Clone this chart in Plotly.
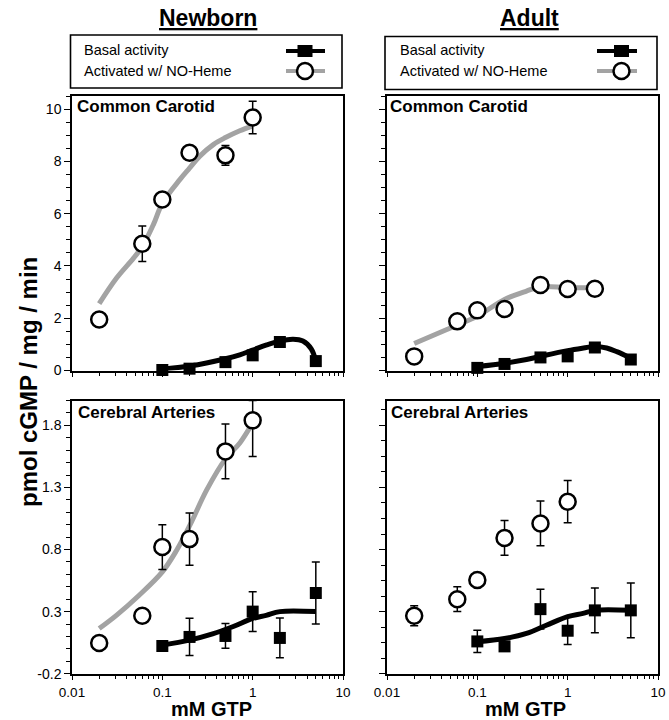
import plotly.graph_objects as go

# ---------------- data ----------------
gtp_act = [0.02, 0.06, 0.1, 0.2, 0.5, 1]
gtp_basal = [0.1, 0.2, 0.5, 1, 2, 5]

# Newborn, common carotid
nb_cc_act = [1.95, 4.85, 6.54, 8.33, 8.23, 9.68]
nb_cc_act_err = [0.2, 0.68, 0.2, 0.2, 0.38, 0.62]
nb_cc_basal = [0.02, 0.07, 0.32, 0.58, 1.09, 0.36]
nb_cc_basal_err = [0.05, 0.05, 0.05, 0.05, 0.05, 0.05]
nb_cc_act_fit_x = [0.02, 0.031, 0.048, 0.06, 0.08, 0.1, 0.157, 0.2, 0.26, 0.37, 0.5, 0.72, 1.0]
nb_cc_act_fit_y = [2.56, 3.53, 4.3, 4.74, 5.6, 6.4, 7.31, 7.74, 8.2, 8.65, 8.91, 9.17, 9.36]
nb_cc_basal_fit_x = [0.1, 0.2, 0.5, 0.72, 1, 1.43, 2, 2.8, 3.6, 4.45, 5]
nb_cc_basal_fit_y = [0.05, 0.17, 0.45, 0.6, 0.78, 0.98, 1.13, 1.2, 1.13, 0.83, 0.36]

# Adult, common carotid
ad_cc_act_x = [0.02, 0.06, 0.1, 0.2, 0.5, 1, 2]
ad_cc_act = [0.54, 1.88, 2.3, 2.35, 3.27, 3.12, 3.13]
ad_cc_act_err = [0.1, 0.1, 0.1, 0.1, 0.1, 0.1, 0.1]
ad_cc_basal = [0.1, 0.25, 0.5, 0.54, 0.88, 0.42]
ad_cc_basal_err = [0.05, 0.05, 0.05, 0.05, 0.05, 0.05]
ad_cc_act_fit_x = [0.02, 0.046, 0.1, 0.2, 0.35, 0.5, 1, 2]
ad_cc_act_fit_y = [1.03, 1.57, 2.08, 2.72, 3.04, 3.2, 3.17, 3.17]
ad_cc_basal_fit_x = [0.1, 0.2, 0.35, 0.5, 1, 1.5, 2, 2.7, 3.5, 5]
ad_cc_basal_fit_y = [0.15, 0.28, 0.42, 0.54, 0.76, 0.86, 0.92, 0.86, 0.72, 0.47]

# Newborn, cerebral arteries
nb_cer_act = [0.047, 0.266, 0.82, 0.884, 1.59, 1.84]
nb_cer_act_err_up = [0.02, 0.02, 0.18, 0.21, 0.22, 0.16]
nb_cer_act_err_dn = [0.02, 0.02, 0.18, 0.21, 0.22, 0.29]
nb_cer_basal = [0.023, 0.096, 0.104, 0.30, 0.088, 0.45]
nb_cer_basal_err = [0.02, 0.15, 0.10, 0.16, 0.16, 0.25]
nb_cer_act_fit_x = [0.02, 0.031, 0.055, 0.1, 0.143, 0.2, 0.31, 0.5, 0.725, 1.0]
nb_cer_act_fit_y = [0.164, 0.27, 0.43, 0.62, 0.79, 0.99, 1.28, 1.53, 1.66, 1.82]
nb_cer_basal_fit_x = [0.1, 0.2, 0.36, 0.61, 1, 1.41, 2, 5]
nb_cer_basal_fit_y = [0.03, 0.07, 0.12, 0.18, 0.245, 0.27, 0.30, 0.30]

# Adult, cerebral arteries
ad_cer_act = [0.267, 0.40, 0.555, 0.893, 1.01, 1.185]
ad_cer_act_err = [0.08, 0.10, 0.06, 0.14, 0.18, 0.17]
ad_cer_basal = [0.06, 0.02, 0.32, 0.146, 0.31, 0.31]
ad_cer_basal_err = [0.09, 0.0, 0.16, 0.11, 0.18, 0.22]
ad_cer_basal_fit_x = [0.1, 0.2, 0.35, 0.58, 1, 1.48, 2, 5]
ad_cer_basal_fit_y = [0.057, 0.083, 0.124, 0.19, 0.26, 0.286, 0.31, 0.31]

# ticks
x_tick_vals = [0.01, 0.1, 1, 10]
x_tick_text = ["0.01", "0.1", "1", "10"]
x_minor_vals = [m * d for d in (0.01, 0.1, 1) for m in range(2, 10)]
cc_tick_vals = [0, 2, 4, 6, 8, 10]
cc_tick_text = ["0", "2", "4", "6", "8", "10"]
cer_tick_vals = [-0.2, 0.3, 0.8, 1.3, 1.8]
cer_tick_text = ["-0.2", "0.3", "0.8", "1.3", "1.8"]

group_titles = ["Newborn", "Adult"]
panel_titles = ["Common Carotid", "Cerebral Arteries"]
legend_labels = ["Basal activity", "Activated w/ NO-Heme"]
x_title = "mM GTP"
y_title = "pmol cGMP / mg / min"

# ---------------- layout helpers ----------------
W, H = 669, 720
FONT = "Liberation Sans, Arial, Helvetica, sans-serif"
GRAY = "#a3a3a3"


def px(x):
    return x / W


def py(y):
    return 1 - y / H


dom_x = [[px(72), px(343)], [px(387), px(658)]]
dom_top = [py(370.5), py(96)]
dom_bot = [py(673.7), py(400.5)]

fig = go.Figure()

panels = [
    ("x", "y", gtp_act, nb_cc_act, nb_cc_act_err, nb_cc_act_err, nb_cc_basal, nb_cc_basal_err,
     (nb_cc_act_fit_x, nb_cc_act_fit_y), (nb_cc_basal_fit_x, nb_cc_basal_fit_y)),
    ("x2", "y2", ad_cc_act_x, ad_cc_act, ad_cc_act_err, ad_cc_act_err, ad_cc_basal, ad_cc_basal_err,
     (ad_cc_act_fit_x, ad_cc_act_fit_y), (ad_cc_basal_fit_x, ad_cc_basal_fit_y)),
    ("x3", "y3", gtp_act, nb_cer_act, nb_cer_act_err_up, nb_cer_act_err_dn, nb_cer_basal, nb_cer_basal_err,
     (nb_cer_act_fit_x, nb_cer_act_fit_y), (nb_cer_basal_fit_x, nb_cer_basal_fit_y)),
    ("x4", "y4", gtp_act, ad_cer_act, ad_cer_act_err, ad_cer_act_err, ad_cer_basal, ad_cer_basal_err,
     None, (ad_cer_basal_fit_x, ad_cer_basal_fit_y)),
]

for (xa, ya, ax_, ay_, eu, ed, by_, be, afit, bfit) in panels:
    if afit is not None:
        fig.add_trace(go.Scatter(x=afit[0], y=afit[1], mode="lines", xaxis=xa, yaxis=ya,
                                 line=dict(color=GRAY, width=5, shape="spline"),
                                 cliponaxis=False, hoverinfo="skip"))
    fig.add_trace(go.Scatter(x=bfit[0], y=bfit[1], mode="lines", xaxis=xa, yaxis=ya,
                             line=dict(color="black", width=5, shape="spline"),
                             cliponaxis=False, hoverinfo="skip"))
    fig.add_trace(go.Scatter(x=gtp_basal, y=by_, mode="markers", xaxis=xa, yaxis=ya,
                             marker=dict(symbol="square", size=12, color="black"),
                             error_y=dict(type="data", array=be, color="black", thickness=1.5, width=4),
                             cliponaxis=False))
    fig.add_trace(go.Scatter(x=ax_, y=ay_, mode="markers", xaxis=xa, yaxis=ya,
                             marker=dict(symbol="circle", size=16, color="white",
                                         line=dict(color="black", width=2.5)),
                             error_y=dict(type="data", array=eu, arrayminus=ed, symmetric=False,
                                          color="black", thickness=1.5, width=4),
                             cliponaxis=False))


def xaxis(domain, anchor, labels):
    return dict(type="log", range=[-2, 1], domain=domain, anchor=anchor, automargin=False,
                showline=True, linecolor="black", linewidth=1.5, mirror=True,
                ticks="outside", ticklen=5, tickwidth=1.3, tickcolor="black",
                tickvals=x_tick_vals, ticktext=x_tick_text, showticklabels=labels,
                tickfont=dict(family=FONT, size=13.5, color="black"),
                showgrid=False, zeroline=False,
                minor=dict(tickvals=x_minor_vals, ticks="outside", ticklen=4,
                           tickwidth=1, tickcolor="black", showgrid=False))


def yaxis(domain, anchor, rng, tv, tt, minor_dtick, labels):
    return dict(range=rng, domain=domain, anchor=anchor, automargin=False,
                showline=True, linecolor="black", linewidth=1.5, mirror=True,
                ticks="outside", ticklen=6, tickwidth=1.3, tickcolor="black",
                tickvals=tv, ticktext=tt, showticklabels=labels,
                tickfont=dict(family=FONT, size=14, color="black"),
                showgrid=False, zeroline=False,
                minor=dict(tick0=rng[0], dtick=minor_dtick, ticks="outside", ticklen=4,
                           tickwidth=1, tickcolor="black", showgrid=False))


fig.update_layout(
    width=W, height=H, margin=dict(l=0, r=0, t=0, b=0, pad=0, autoexpand=False),
    paper_bgcolor="white", plot_bgcolor="white", showlegend=False,
    font=dict(family=FONT, color="black"),
    xaxis=xaxis(dom_x[0], "y", False),
    xaxis2=xaxis(dom_x[1], "y2", False),
    xaxis3=xaxis(dom_x[0], "y3", True),
    xaxis4=xaxis(dom_x[1], "y4", True),
    yaxis=yaxis(dom_top, "x", [0, 10.5], cc_tick_vals, cc_tick_text, 0.5, True),
    yaxis2=yaxis(dom_top, "x2", [0, 10.5], cc_tick_vals, cc_tick_text, 0.5, False),
    yaxis3=yaxis(dom_bot, "x3", [-0.2, 2.0], cer_tick_vals, cer_tick_text, 0.1, True),
    yaxis4=yaxis(dom_bot, "x4", [-0.2, 2.0], cer_tick_vals, cer_tick_text, 0.125, False),
)

ann = []
shapes = []

for title, cx in zip(group_titles, [208, 529]):
    ann.append(dict(text="<b><u>%s</u></b>" % title, x=px(cx), y=py(18), xref="paper", yref="paper",
                    xanchor="center", yanchor="middle", showarrow=False,
                    font=dict(family=FONT, size=23, color="black")))

for lx in [75, 388]:
    ann.append(dict(text="<b>%s</b>" % panel_titles[0], x=px(lx), y=py(106), xref="paper", yref="paper",
                    xanchor="left", yanchor="middle", showarrow=False,
                    font=dict(family=FONT, size=17, color="black")))
    ann.append(dict(text="<b>%s</b>" % panel_titles[1], x=px(lx + 1), y=py(412), xref="paper", yref="paper",
                    xanchor="left", yanchor="middle", showarrow=False,
                    font=dict(family=FONT, size=17, color="black")))

for cx in [211, 525]:
    ann.append(dict(text="<b>%s</b>" % x_title, x=px(cx), y=py(708.5), xref="paper", yref="paper",
                    xanchor="center", yanchor="middle", showarrow=False,
                    font=dict(family=FONT, size=20, color="black")))
ann.append(dict(text="<b>%s</b>" % y_title, x=px(28), y=py(382), xref="paper", yref="paper",
                xanchor="center", yanchor="middle", textangle=-90, showarrow=False,
                font=dict(family=FONT, size=24, color="black")))

legend_boxes = [
    dict(box=(70.5, 35, 342, 88), text_x=82, sym_x=305, line=(286, 325)),
    dict(box=(385, 36.5, 657, 89.5), text_x=398, sym_x=621.5, line=(597, 637)),
]
for lb in legend_boxes:
    x0, y0, x1, y1 = lb["box"]
    shapes.append(dict(type="rect", xref="paper", yref="paper", x0=px(x0), x1=px(x1), y0=py(y0), y1=py(y1),
                       line=dict(color="black", width=1.6), fillcolor="white", layer="below"))
    for lab, yy in zip(legend_labels, [50, 71]):
        ann.append(dict(text=lab, x=px(lb["text_x"]), y=py(yy), xref="paper", yref="paper",
                        xanchor="left", yanchor="middle", showarrow=False,
                        font=dict(family=FONT, size=14.5, color="black")))
    sx = lb["sym_x"]
    l0, l1 = lb["line"]
    shapes.append(dict(type="line", xref="paper", yref="paper", x0=px(l0), x1=px(l1), y0=py(51), y1=py(51),
                       line=dict(color="black", width=4)))
    shapes.append(dict(type="rect", xref="paper", yref="paper", x0=px(sx - 7.5), x1=px(sx + 7.5),
                       y0=py(45), y1=py(57), line=dict(color="black", width=0), fillcolor="black"))
    shapes.append(dict(type="line", xref="paper", yref="paper", x0=px(l0), x1=px(l1), y0=py(71), y1=py(71),
                       line=dict(color=GRAY, width=4)))
    shapes.append(dict(type="circle", xref="paper", yref="paper", x0=px(sx - 8), x1=px(sx + 8),
                       y0=py(63), y1=py(79), line=dict(color="black", width=2.5), fillcolor="white"))

fig.update_layout(annotations=ann, shapes=shapes)
fig.write_html(
    "out.html",
    config={"displayModeBar": False},
    post_script="document.body.style.margin='0px';document.body.style.padding='0px';"
                "document.documentElement.style.overflow='hidden';",
)
